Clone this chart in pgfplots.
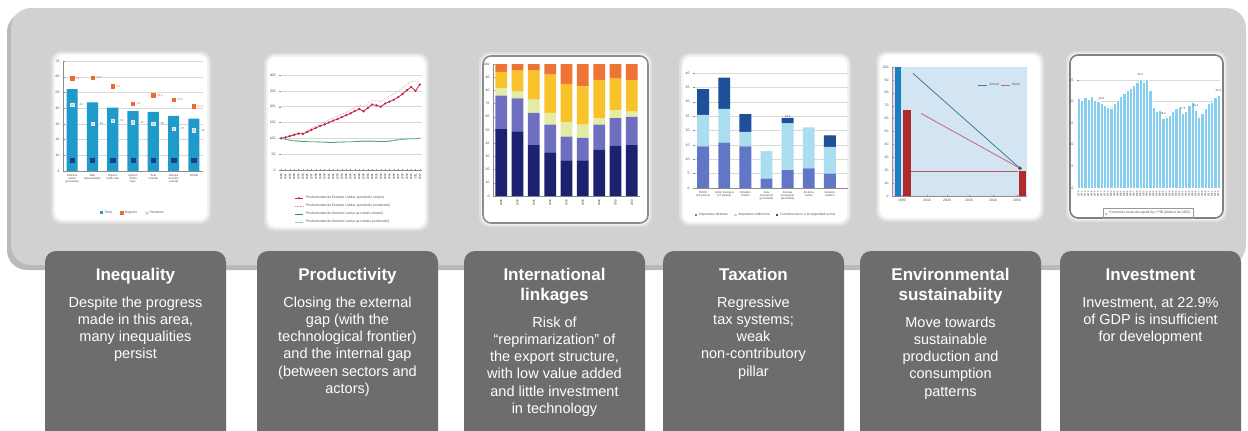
\documentclass[border=0pt]{standalone}
\usepackage{fontspec}
\setmainfont{Liberation Sans}
\usepackage{pgfplots}
\pgfplotsset{compat=1.18}

\definecolor{panel}{HTML}{D1D1D1}
\definecolor{panelshadow}{HTML}{B9B9B9}
\definecolor{boxgrey}{HTML}{6D6D6F}
\definecolor{ineqblue}{HTML}{1F9BCB}
\definecolor{ineqorange}{HTML}{EE6A2C}
\definecolor{ineqpale}{HTML}{DDEFF8}
\definecolor{ineqnavy}{HTML}{1A3F7A}
\definecolor{prodred}{HTML}{C42748}
\definecolor{prodpink}{HTML}{E68AA0}
\definecolor{prodgreen}{HTML}{2E8B57}
\definecolor{prodlight}{HTML}{8FD3A6}
\definecolor{lkA}{HTML}{1C2270}
\definecolor{lkB}{HTML}{6E6FC0}
\definecolor{lkC}{HTML}{E3EBA5}
\definecolor{lkD}{HTML}{F8C32A}
\definecolor{lkE}{HTML}{EE7436}
\definecolor{taxA}{HTML}{6276C8}
\definecolor{taxB}{HTML}{AADDEF}
\definecolor{taxC}{HTML}{1D4F9B}
\definecolor{envbg}{HTML}{D3E5F2}
\definecolor{envblue}{HTML}{1B80C3}
\definecolor{envred}{HTML}{AE2A2E}
\definecolor{envteal}{HTML}{3C7F96}
\definecolor{envpink}{HTML}{D0607A}
\definecolor{invblue}{HTML}{86CDF0}

\newcommand\tinyfont{\fontsize{3.4}{3.8}\selectfont}
\newcommand\microfont{\fontsize{2.8}{3.1}\selectfont}

\tikzset{
  ttl/.style={font=\bfseries\fontsize{17}{20}\selectfont, text=white, anchor=base, inner sep=0pt},
  bdy/.style={font=\fontsize{14.5}{17}\selectfont, text=white, anchor=base, inner sep=0pt},
}

% x, title lines, first body baseline, body lines
\newcommand\cardtext[4]{%
  \foreach \txt [count=\i from 0] in {#2} {\node[ttl] at (#1,280+20*\i) {\txt};}
  \foreach \txt [count=\i from 0] in {#4} {\node[bdy] at (#1,#3+17.3*\i) {\txt};}
}
% white thumbnail with a soft edge
\newcommand\thumb[4]{%
  \fill[white, opacity=0.3, rounded corners=10] (#1-4,#2-4) rectangle (#3+4,#4+4);
  \fill[white, opacity=0.6, rounded corners=9] (#1-2,#2-2) rectangle (#3+2,#4+2);
  \fill[white, rounded corners=8] (#1,#2) rectangle (#3,#4);
}

\pgfplotsset{
  mini/.style={
    scale only axis, anchor=north west, clip=false,
    axis line style={black!45, line width=0.4pt},
    tick style={black!45, line width=0.3pt}, major tick length=1.5pt,
    tick label style={font=\tinyfont, text=black!70},
    /pgf/number format/assume math mode=true,
    /pgf/number format/1000 sep={},
    grid style={black!15, line width=0.4pt},
    legend style={font=\tinyfont, draw=none, fill=none, text=black!65, inner sep=1pt},
    every node near coord/.append style={font=\microfont},
  },
  sqlegend/.style={legend image code/.code={\fill[##1] (0pt,-1.3pt) rectangle (2.6pt,1.3pt);}},
}

\begin{document}
\begin{tikzpicture}[x=1pt,y=-1pt]
\useasboundingbox (0,0) rectangle (1248,431);
\clip (0,0) rectangle (1248,431);
\fill[white] (0,0) rectangle (1248,431);

% grey panel
\fill[panelshadow, rounded corners=20] (7,12) rectangle (1243,270);
\fill[panel, rounded corners=20] (11,8) rectangle (1246,265);

% thumbnails
\thumb{55}{55}{207}{220}
\thumb{268}{57}{425}{227}
\thumb{483}{56}{648}{223}
\draw[black!45, line width=1.6pt, rounded corners=8] (483,56) rectangle (648,223);
\thumb{683}{57}{847}{222}
\thumb{880}{55}{1040}{218}
\thumb{1070}{55}{1223}{218}
\draw[black!50, line width=1.6pt, rounded corners=8] (1070,55) rectangle (1223,218);

% 1 Inequality
\begin{axis}[mini, at={(63pt,-61pt)}, width=140pt, height=110pt,
  xmin=0.55, xmax=7.45, ymin=0, ymax=70, ytick={0,10,...,70}, ymajorgrids,
  axis x line*=bottom, axis y line*=left,
  xtick={1,...,7}, major x tick style={draw=none},
  xticklabels={{América\\Latina\\(promedio)},{Más\\desarrollados},{Ingreso\\medio alto},{Ingreso\\medio\\bajo},{Asia\\oriental},{Europa\\central y\\oriental},{OCDE}},
  xticklabel style={align=center, font=\microfont},
  legend style={at={(0.5,-0.38)}, anchor=center, legend columns=3,
    /tikz/every even column/.append style={column sep=6pt}},
  sqlegend,
]
\addplot[ybar, bar width=0.55, bar shift=0pt, ineqblue, fill=ineqblue, draw=none]
  coordinates {(1,52.1)(2,43.6)(3,40.4)(4,38.1)(5,37.7)(6,35.1)(7,33.4)};
\addlegendentry{Total}
\addplot[only marks, mark=square*, mark size=1.6pt, ineqorange, fill=ineqorange, nodes near coords,
  every node near coord/.append style={anchor=west, text=ineqorange, xshift=0.5pt}]
  coordinates {(1,59.0)(2,59.6)(3,54.0)(4,43.0)(5,48.3)(6,45.5)(7,41.3)};
\addlegendentry{Mujeres}
\addplot[only marks, mark=square*, mark size=1.6pt, ineqpale, fill=ineqpale!70!ineqorange, nodes near coords,
  every node near coord/.append style={anchor=west, text=black!60, xshift=4pt}]
  coordinates {(1,42.0)(2,30.0)(3,32.0)(4,31.0)(5,30.0)(6,27.0)(7,26.0)};
\addlegendentry{Hombres}
\addplot[only marks, mark=square*, mark size=2.2pt, ineqnavy, forget plot]
  coordinates {(1,7)(2,7)(3,7)(4,7)(5,7)(6,7)(7,7)};
\end{axis}

% 2 Productivity
\begin{axis}[mini, at={(279pt,-75pt)}, width=143pt, height=95pt,
  xmin=1979.5, xmax=2012.5, ymin=0, ymax=300, ytick={0,50,...,300}, ymajorgrids,
  axis x line*=bottom, axis y line*=left, y axis line style={draw=none},
  xtick={1980,...,2012}, xticklabel style={rotate=90, anchor=east, font=\microfont, text=black!85},
  legend style={at={(0.1,-0.24)}, anchor=north west, legend cell align=left},
  legend image post style={scale=0.5},
]
\addplot[prodred, line width=0.8pt, mark=*, mark size=0.7pt] coordinates {
 (1980,100)(1981,103)(1982,107)(1983,111)(1984,115)(1985,114)(1986,120)(1987,127)
 (1988,133)(1989,139)(1990,144)(1991,150)(1992,156)(1993,161)(1994,167)(1995,173)
 (1996,179)(1997,186)(1998,193)(1999,185)(2000,196)(2001,207)(2002,204)(2003,200)
 (2004,210)(2005,216)(2006,222)(2007,230)(2008,240)(2009,252)(2010,262)(2011,250)(2012,270)};
\addlegendentry{Productividad de Estados Unidos (promedio simple)}
\addplot[prodpink, line width=0.6pt, densely dotted] coordinates {
 (1980,100)(1981,104)(1982,109)(1983,114)(1984,118)(1985,118)(1986,124)(1987,132)
 (1988,139)(1989,146)(1990,152)(1991,158)(1992,164)(1993,170)(1994,176)(1995,182)
 (1996,189)(1997,197)(1998,205)(1999,200)(2000,210)(2001,220)(2002,219)(2003,216)
 (2004,226)(2005,233)(2006,240)(2007,249)(2008,259)(2009,270)(2010,280)(2011,281)(2012,278)};
\addlegendentry{Productividad de Estados Unidos (promedio ponderado)}
\addplot[prodgreen, line width=0.7pt] coordinates {
 (1980,100)(1981,97)(1982,94)(1983,92)(1984,91)(1985,90)(1986,90)(1987,89)
 (1988,89)(1989,88)(1990,88)(1991,87)(1992,87)(1993,88)(1994,88)(1995,89)
 (1996,89)(1997,90)(1998,90)(1999,91)(2000,91)(2001,91)(2002,90)(2003,90)
 (2004,90)(2005,91)(2006,93)(2007,95)(2008,97)(2009,98)(2010,99)(2011,99)(2012,100)};
\addlegendentry{Productividad de América Latina (promedio simple)}
\addplot[prodlight, line width=0.6pt] coordinates {
 (1980,100)(1981,98)(1982,95)(1983,93)(1984,92)(1985,91)(1986,91)(1987,90)
 (1988,90)(1989,89)(1990,89)(1991,88)(1992,88)(1993,89)(1994,89)(1995,90)
 (1996,90)(1997,91)(1998,91)(1999,92)(2000,92)(2001,92)(2002,91)(2003,91)
 (2004,91)(2005,92)(2006,94)(2007,96)(2008,98)(2009,99)(2010,100)(2011,100)(2012,101)};
\addlegendentry{Productividad de América Latina (promedio ponderado)}
\end{axis}

% 3 International linkages
\begin{axis}[mini, at={(493pt,-64pt)}, width=147pt, height=132pt,
  ybar stacked, bar width=0.72,
  xmin=0.5, xmax=9.5, ymin=0, ymax=100, ytick={0,10,...,100},
  axis x line*=bottom, axis y line*=left,
  xtick={1,...,9}, major x tick style={draw=none},
  xticklabels={1985,1990,1995,2000,2003,2005,2008,2010,2013},
  xticklabel style={rotate=90, anchor=east, font=\microfont, text=black!85},
]
\addplot[fill=lkA, draw=none] coordinates {(1,51)(2,49)(3,39)(4,33)(5,27)(6,27)(7,35)(8,38)(9,39)};
\addplot[fill=lkB, draw=none] coordinates {(1,25)(2,25)(3,24)(4,21)(5,18)(6,17)(7,19)(8,21)(9,21)};
\addplot[fill=lkC, draw=none] coordinates {(1,6)(2,5)(3,10)(4,9)(5,11)(6,10)(7,5)(8,6)(9,4)};
\addplot[fill=lkD, draw=none] coordinates {(1,12)(2,16)(3,22)(4,29)(5,29)(6,29)(7,29)(8,24)(9,24)};
\addplot[fill=lkE, draw=none] coordinates {(1,6)(2,5)(3,5)(4,8)(5,15)(6,17)(7,12)(8,11)(9,12)};
\end{axis}

% 4 Taxation
\begin{axis}[mini, at={(693pt,-73pt)}, width=155pt, height=115pt,
  ybar stacked, bar width=0.56,
  xmin=0.52, xmax=7.86, ymin=0, ymax=40, ytick={0,5,...,40}, ymajorgrids,
  axis x line*=bottom, axis y line*=left, y axis line style={draw=none},
  xtick={1,...,7}, major x tick style={draw=none},
  xticklabels={{OCDE\\(34 países)},{Unión Europea\\(27 países)},{Estados\\Unidos},{Asia\\emergente\\(promedio)},{Europa\\emergente\\(promedio)},{América\\Latina},{Sudeste\\asiático}},
  xticklabel style={align=center, font=\microfont},
  legend style={at={(0.47,-0.235)}, anchor=center, legend columns=3,
    /tikz/every even column/.append style={column sep=4pt}},
  sqlegend,
]
\addplot[taxA, fill=taxA, draw=none] coordinates {(1,14.5)(2,15.8)(3,14.5)(4,3.3)(5,6.2)(6,6.8)(7,5.0)};
\addlegendentry{Impuestos directos}
\addplot[taxB, fill=taxB, draw=none] coordinates {(1,10.9)(2,11.7)(3,5.0)(4,9.5)(5,16.3)(6,14.3)(7,9.3)};
\addlegendentry{Impuestos indirectos}
\addplot[taxC, fill=taxC, draw=none, point meta=explicit, nodes near coords,
  every node near coord/.append style={anchor=south, text=black!70}]
  table[meta=t, row sep=\\] {x y t\\ 1 9.0 34.4\\ 2 10.9 38.4\\ 3 6.2 25.7\\ 4 0 12.8\\ 5 1.9 24.4\\ 6 0 21.1\\ 7 4.0 18.3\\};
\addlegendentry{Contribuciones a la seguridad social}
\end{axis}

% 5 Environmental sustainability
\begin{axis}[mini, at={(892pt,-67pt)}, width=135pt, height=129pt,
  xmin=0, xmax=135, ymin=0, ymax=100, ytick={0,10,...,100},
  axis background/.style={fill=envbg},
  axis x line*=bottom, axis y line*=left,
  y axis line style={envred!60}, ytick style={envred!70},
  xtick={10,35,55,77,101,125}, xticklabels={1990,2010,2020,2030,2040,2050},
  legend style={at={(0.97,0.9)}, anchor=north east, legend columns=2},
  legend image post style={scale=0.5},
]
\addplot[ybar, bar width=6, bar shift=0pt, fill=envblue, draw=none, forget plot] coordinates {(6,100)};
\addplot[ybar, bar width=8, bar shift=0pt, fill=envred, draw=none, forget plot] coordinates {(15,67)};
\addplot[ybar, bar width=7, bar shift=0pt, fill=envred, draw=none, forget plot] coordinates {(130,19.4)};
\addplot[envteal, line width=0.8pt] coordinates {(21,95)(128,21.5)};
\addlegendentry{Actual}
\addplot[envpink, line width=0.8pt] coordinates {(29,64)(128,21.5)};
\addlegendentry{Meta}
\addplot[envred!80, line width=0.8pt, forget plot] coordinates {(19,19.4)(126,19.4)};
\addplot[only marks, mark=*, mark size=1.6pt, black!70, forget plot] coordinates {(128,21.5)};
\end{axis}

% 6 Investment
\begin{axis}[mini, at={(1077pt,-80pt)}, width=143pt, height=108pt,
  xmin=1969.5, xmax=2013.5, ymin=0, ymax=25, ytick={0,5,...,25}, ymajorgrids,
  axis x line*=bottom, axis y line*=left, y axis line style={draw=none},
  xtick={1970,...,2013}, xticklabel style={rotate=90, anchor=east, font=\fontsize{2.4}{2.6}\selectfont, text=black!85},
  legend style={at={(0.5,-0.235)}, anchor=center, draw=black!40},
  sqlegend,
]
\addplot[ybar, bar width=1, bar shift=0pt, invblue, fill=invblue, draw=white, line width=0.2pt] coordinates {
 (1970,20.8)(1971,20.4)(1972,21.0)(1973,20.5)(1974,21.2)(1975,20.4)(1976,20.2)(1977,19.6)
 (1978,19.2)(1979,18.8)(1980,18.6)(1981,19.6)(1982,20.4)(1983,21.2)(1984,21.9)(1985,22.7)
 (1986,23.1)(1987,23.8)(1988,24.6)(1989,25.2)(1990,24.6)(1991,25.2)(1992,22.7)(1993,18.8)
 (1994,17.7)(1995,18.1)(1996,16.2)(1997,16.5)(1998,16.9)(1999,17.7)(2000,18.5)(2001,18.8)
 (2002,17.3)(2003,17.7)(2004,19.2)(2005,20.0)(2006,18.1)(2007,16.5)(2008,17.3)(2009,18.5)
 (2010,19.6)(2011,20.0)(2012,21.0)(2013,21.5)};
\addlegendentry{Formación bruta de capital fijo / PIB (dólares de 2005)}
\addplot[draw=none, mark=none, forget plot, nodes near coords,
  every node near coord/.append style={anchor=south, text=black!75}]
  coordinates {(1977,19.6)(1989,25.2)(1996,16.2)(2002,17.3)(2006,18.1)(2013,21.5)};
\end{axis}

% text cards
\foreach \cx in {45,257,464,663,860,1060}
  \fill[boxgrey, rounded corners=11] (\cx,251) rectangle (\cx+181,460);

\cardtext{135.5}{Inequality}{307}{{Despite the progress},{made in this area,},{many inequalities},{persist}}
\cardtext{347.5}{Productivity}{307}{{Closing the external},{gap (with the},{technological frontier)},{and the internal gap},{(between sectors and},{actors)}}
\cardtext{554.5}{{International},{linkages}}{327}{{Risk of},{“reprimarization” of},{the export structure,},{with low value added},{and little investment},{in technology}}
\cardtext{753.5}{Taxation}{307}{{Regressive},{tax systems;},{weak},{non-contributory},{pillar}}
\cardtext{950.5}{{Environmental},{sustainabiity}}{327}{{Move towards},{sustainable},{production and},{consumption},{patterns}}
\cardtext{1150.5}{Investment}{307}{{Investment, at 22.9\%},{of GDP is insufficient},{for development}}
\end{tikzpicture}
\end{document}
